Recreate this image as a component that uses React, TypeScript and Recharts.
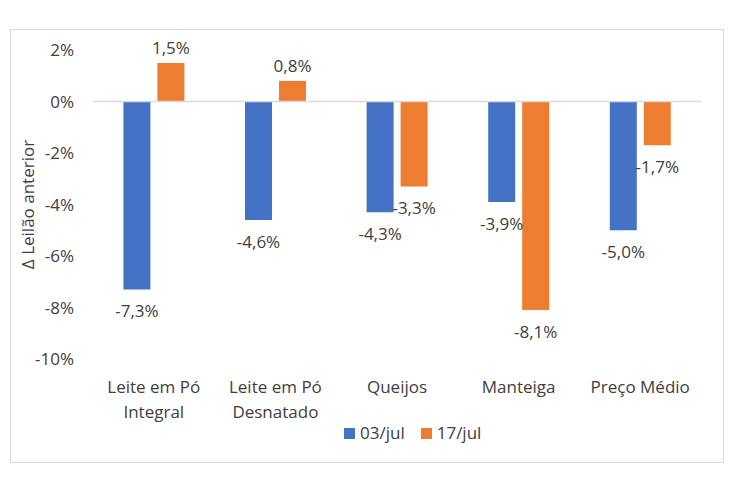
import React from 'react';
import { BarChart, Bar, XAxis, YAxis, ReferenceLine, LabelList } from 'recharts';

const categories = ['Leite em Pó\nIntegral', 'Leite em Pó\nDesnatado', 'Queijos', 'Manteiga', 'Preço Médio'];
const series03jul = [-7.3, -4.6, -4.3, -3.9, -5.0];
const series17jul = [1.5, 0.8, -3.3, -8.1, -1.7];
const yTicks = [-10, -8, -6, -4, -2, 0, 2];

const data = categories.map((c, i) => ({ name: c, a: series03jul[i], b: series17jul[i] }));

const FONT = '"Open Sans", sans-serif';
const TXT = '#404040';
const FS = 17;

const fmt = (v: number) => v.toFixed(1).replace('.', ',') + '%';

const XTick = (props: any) => {
  const { x, y, payload } = props;
  const lines = String(payload.value).split('\n');
  return (
    <text x={x} y={y} textAnchor="middle" fontFamily={FONT} fontSize={FS} fill={TXT}>
      {lines.map((l, i) => (
        <tspan key={i} x={x} dy={i === 0 ? 26 : 25}>{l}</tspan>
      ))}
    </text>
  );
};

const BarLabel = (props: any) => {
  const { x, y, width, height, value } = props;
  const top = Math.min(y, y + height);
  const bottom = Math.max(y, y + height);
  const cx = x + width / 2;
  const ty = value >= 0 ? top - 9 : bottom + 28;
  return (
    <text x={cx} y={ty} textAnchor="middle" fontFamily={FONT} fontSize={FS} fill={TXT}>
      {fmt(value)}
    </text>
  );
};

export default function App() {
  return (
    <div style={{ position: 'fixed', left: 0, top: 0, width: 740, height: 492, background: '#fff' }}>
      <div style={{ position: 'absolute', left: 10, top: 29, width: 712, height: 432, border: '1px solid #D9D9D9' }} />
      <div style={{ position: 'absolute', left: 0, top: 0 }}>
        <BarChart
          width={740}
          height={492}
          data={data}
          margin={{ top: 50, right: 39, bottom: 103, left: 0 }}
          barCategoryGap="25%"
          barGap={7}
        >
          <XAxis dataKey="name" axisLine={false} tickLine={false} tick={<XTick />} interval={0} height={30} />
          <YAxis
            width={93}
            domain={[-10, 2]}
            ticks={yTicks}
            axisLine={false}
            tickLine={false}
            tickSize={0}
            tickMargin={19}
            tickFormatter={(v: number) => v + '%'}
            tick={{ fontFamily: FONT, fontSize: FS, fill: TXT }}
            label={{
              content: (p: any) => {
                const vb = p.viewBox;
                const cy = vb.y + vb.height / 2;
                return (
                  <text
                    x={27}
                    y={cy}
                    transform={`rotate(-90 27 ${cy})`}
                    textAnchor="middle"
                    dominantBaseline="central"
                    fontFamily={FONT}
                    fontSize={FS}
                    fill={TXT}
                  >
                    Δ Leilão anterior
                  </text>
                );
              },
            }}
          />
          <ReferenceLine y={0} stroke="#D9D9D9" strokeWidth={1.5} />
          <Bar dataKey="a" name="03/jul" fill="#4472C4" isAnimationActive={false}>
            <LabelList dataKey="a" content={<BarLabel />} />
          </Bar>
          <Bar dataKey="b" name="17/jul" fill="#ED7D31" isAnimationActive={false}>
            <LabelList dataKey="b" content={<BarLabel />} />
          </Bar>
        </BarChart>
      </div>
      <div
        style={{
          position: 'absolute',
          left: 344,
          top: 422,
          display: 'flex',
          alignItems: 'center',
          fontFamily: FONT,
          fontSize: FS,
          color: TXT,
          lineHeight: '22px',
        }}
      >
        <span style={{ width: 11, height: 11, background: '#4472C4', display: 'inline-block', marginRight: 5 }} />
        <span style={{ marginRight: 16 }}>03/jul</span>
        <span style={{ width: 11, height: 11, background: '#ED7D31', display: 'inline-block', marginRight: 5 }} />
        <span>17/jul</span>
      </div>
    </div>
  );
}
